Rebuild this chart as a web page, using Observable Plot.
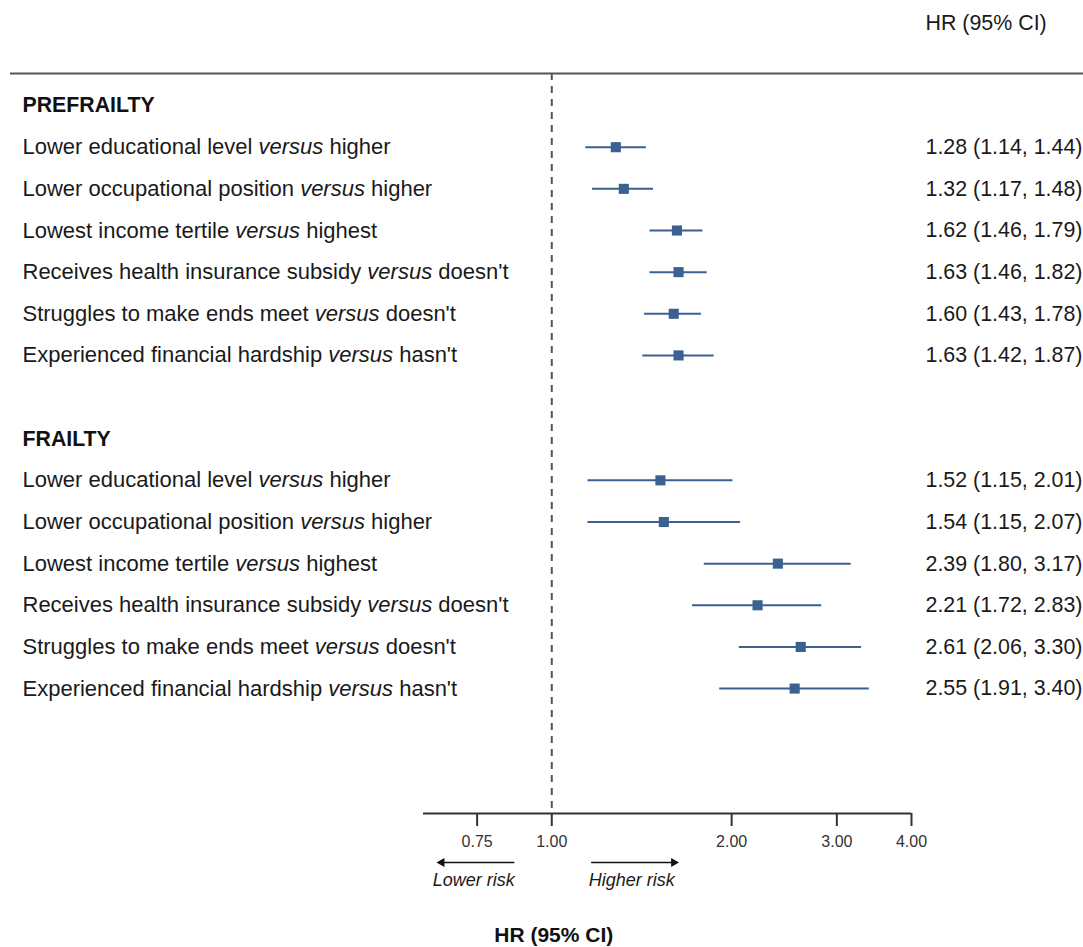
<!DOCTYPE html>
<html>
<head>
<meta charset="utf-8">
<script src="https://cdn.jsdelivr.net/npm/d3@7"></script>
<script src="https://cdn.jsdelivr.net/npm/@observablehq/plot@0.6"></script>
<style>
  body { margin: 0; background: #fff; }
  #chart svg { display: block; }
</style>
</head>
<body>
<div id="chart"></div>
<script>
// ---- data ----
const groups = ["PREFRAILTY", "FRAILTY"];
const comparisons = [
  "Lower educational level versus higher",
  "Lower occupational position versus higher",
  "Lowest income tertile versus highest",
  "Receives health insurance subsidy versus doesn't",
  "Struggles to make ends meet versus doesn't",
  "Experienced financial hardship versus hasn't"
];
const prefrailtyHR   = [1.28, 1.32, 1.62, 1.63, 1.60, 1.63];
const prefrailtyLow  = [1.14, 1.17, 1.46, 1.46, 1.43, 1.42];
const prefrailtyHigh = [1.44, 1.48, 1.79, 1.82, 1.78, 1.87];
const frailtyHR   = [1.52, 1.54, 2.39, 2.21, 2.61, 2.55];
const frailtyLow  = [1.15, 1.15, 1.80, 1.72, 2.06, 1.91];
const frailtyHigh = [2.01, 2.07, 3.17, 2.83, 3.30, 3.40];
const xTicks = [0.75, 1, 2, 3, 4];
const xDomain = [0.61, 4];
const yDomain = [-0.77, 17];
const axisTitle = "HR (95% CI)";
const lowerLabel = "Lower risk";
const higherLabel = "Higher risk";

// ---- tables ----
const series = [
  {hr: prefrailtyHR, lo: prefrailtyLow, hi: prefrailtyHigh},
  {hr: frailtyHR, lo: frailtyLow, hi: frailtyHigh}
];
const headers = groups.map((g, gi) => ({label: g, row: gi * 8}));
const rows = [];
series.forEach((s, gi) => {
  comparisons.forEach((c, i) => {
    rows.push({label: c, row: gi * 8 + 1 + i, hr: s.hr[i], lo: s.lo[i], hi: s.hi[i]});
  });
});
const f2 = d3.format(".2f");
const blue = "#3a6190";
const ink = "#1a1a1a";
const font = "'Helvetica Neue', Helvetica, 'Liberation Sans', Arial, sans-serif";

const chart = Plot.plot({
  width: 1083,
  height: 947,
  marginTop: 73,
  marginBottom: 134,
  marginLeft: 10,
  marginRight: 0,
  style: {fontFamily: font, background: "#fff", color: ink},
  x: {type: "log", domain: xDomain, range: [423, 911], label: null},
  y: {domain: yDomain, reverse: true, axis: null, label: null},
  marks: [
    // top separator line
    Plot.ruleY([yDomain[0]], {stroke: "#555", strokeWidth: 2}),
    // reference line at HR = 1
    Plot.ruleX([1], {stroke: "#555", strokeWidth: 2, strokeDasharray: "7,6"}),
    // axis line
    Plot.ruleY([yDomain[1]], {x1: () => xDomain[0], x2: () => xDomain[1], stroke: "#333", strokeWidth: 2}),
    Plot.axisX({ticks: xTicks, tickFormat: f2, tickSize: 13, tickPadding: 9, fontSize: 16, strokeWidth: 2, stroke: "#333", fill: "#333", label: null}),
    // CI whiskers and point estimates
    Plot.ruleY(rows, {y: "row", x1: "lo", x2: "hi", stroke: blue, strokeWidth: 2}),
    Plot.dot(rows, {x: "hr", y: "row", symbol: "square", r: 5.7, fill: blue, stroke: "none"}),
    // group headers
    Plot.text(headers, {y: "row", text: "label", frameAnchor: "left", dx: 12, textAnchor: "start", lineAnchor: "middle", fontSize: 21.3, fontWeight: "bold", fill: "#111"}),
    // row labels
    Plot.text(rows, {y: "row", text: "label", frameAnchor: "left", dx: 12, textAnchor: "start", lineAnchor: "middle", fontSize: 22, fill: ink}),
    // HR values
    Plot.text(rows, {y: "row", text: d => `${f2(d.hr)} (${f2(d.lo)}, ${f2(d.hi)})`, frameAnchor: "right", dx: -158, textAnchor: "start", lineAnchor: "middle", fontSize: 21.4, fill: ink}),
    // column header
    Plot.text([axisTitle], {frameAnchor: "top-right", dx: -158, dy: -50, textAnchor: "start", lineAnchor: "middle", fontSize: 21.4, fill: ink}),
    // direction arrows (shaft + filled head)
    Plot.arrow([0], {x1: () => 1, x2: () => xDomain[0], y1: () => yDomain[1], y2: () => yDomain[1], dy: 49, insetStart: 38, insetEnd: 20, headLength: 0, stroke: "#111", strokeWidth: 1.5}),
    Plot.arrow([0], {x1: () => 1, x2: () => xDomain[1], y1: () => yDomain[1], y2: () => yDomain[1], dy: 49, insetStart: 40, insetEnd: 240, headLength: 0, stroke: "#111", strokeWidth: 1.5}),
    Plot.dot([0], {x: () => 1, y: () => yDomain[1], dx: -110, dy: 49, symbol: "triangle", rotate: -90, r: 3.4, fill: "#111", stroke: "none"}),
    Plot.dot([0], {x: () => 1, y: () => yDomain[1], dx: 122, dy: 49, symbol: "triangle", rotate: 90, r: 3.4, fill: "#111", stroke: "none"}),
    Plot.text([lowerLabel], {x: () => 1, frameAnchor: "bottom", dx: -37, dy: 67, textAnchor: "end", lineAnchor: "middle", fontSize: 18, fontStyle: "italic", fill: ink}),
    Plot.text([higherLabel], {x: () => 1, frameAnchor: "bottom", dx: 37, dy: 67, textAnchor: "start", lineAnchor: "middle", fontSize: 18, fontStyle: "italic", fill: ink}),
    // axis title
    Plot.text([axisTitle], {x: () => 1, frameAnchor: "bottom", dx: 2, dy: 122, textAnchor: "middle", lineAnchor: "middle", fontSize: 21, fontWeight: "bold", fill: "#111"})
  ]
});

// italicise "versus" inside the row labels
chart.querySelectorAll("text").forEach(t => {
  const s = t.textContent;
  const k = s.indexOf("versus");
  if (k < 0) return;
  t.textContent = "";
  t.append(document.createTextNode(s.slice(0, k)));
  const ts = document.createElementNS("http://www.w3.org/2000/svg", "tspan");
  ts.setAttribute("font-style", "italic");
  ts.textContent = "versus";
  t.append(ts);
  t.append(document.createTextNode(s.slice(k + 6)));
});

document.getElementById("chart").append(chart);
</script>
</body>
</html>
